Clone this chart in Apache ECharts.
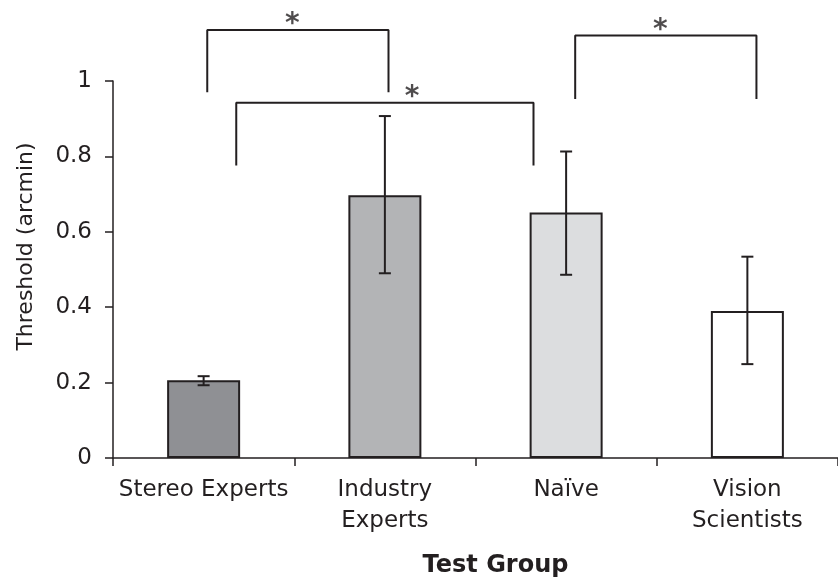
<!DOCTYPE html>
<html>
<head>
<meta charset="utf-8">
<script src="https://cdn.jsdelivr.net/npm/echarts@6/dist/echarts.min.js"></script>
<style>
  html, body { margin: 0; padding: 0; background: #fff; }
  #chart { width: 838px; height: 583px; }
</style>
</head>
<body>
<div id="chart"></div>
<script>
// Mean stereo thresholds per test group, with error-bar limits
const groups = ['Stereo Experts', 'Industry\nExperts', 'Naïve', 'Vision\nScientists'];
const thresholds = [0.206, 0.697, 0.651, 0.390];
const errLow = [0.193, 0.490, 0.486, 0.249];
const errHigh = [0.217, 0.907, 0.813, 0.534];
const barColors = ['#8f9094', '#b3b4b6', '#dcdddf', '#ffffff'];
const yTicks = [0, 0.2, 0.4, 0.6, 0.8, 1];

// Significance brackets, in axis units (x: 0..4 across the category band, y: threshold)
const bracketFrom = [0.52, 0.68, 2.55];
const bracketTo = [1.52, 2.32, 3.55];
const bracketTop = [1.135, 0.942, 1.121];
const bracketFoot = [0.97, 0.776, 0.952];
const starX = [0.99, 1.65, 3.02];
const starY = [1.148, 0.955, 1.133];

const ink = '#231f20';
const font = '"DejaVu Sans", Verdana, sans-serif';

const bracketSeries = bracketFrom.map((x0, i) => ({
  type: 'line',
  xAxisIndex: 1,
  yAxisIndex: 0,
  data: [[x0, bracketFoot[i]], [x0, bracketTop[i]], [bracketTo[i], bracketTop[i]], [bracketTo[i], bracketFoot[i]]],
  symbol: 'none',
  clip: false,
  silent: true,
  lineStyle: { color: ink, width: 2 },
  z: 5
}));

const option = {
  animation: false,
  backgroundColor: '#ffffff',
  grid: { left: 113, right: 0, top: 81, bottom: 123, containLabel: false },
  xAxis: [{
    type: 'category',
    data: groups,
    name: 'Test Group',
    nameLocation: 'middle',
    nameGap: 96,
    nameTextStyle: { fontFamily: font, fontSize: 24, fontWeight: 'bold', color: ink, padding: [0, 0, 0, 40] },
    axisLine: { lineStyle: { color: ink, width: 1.5 } },
    axisTick: { show: true, length: 8, alignWithLabel: false, lineStyle: { color: ink, width: 1.5 } },
    axisLabel: { fontFamily: font, fontSize: 23, color: ink, margin: 17, lineHeight: 31, interval: 0 },
    splitLine: { show: false }
  }, {
    type: 'value',
    min: 0,
    max: 4,
    show: false
  }],
  yAxis: {
    type: 'value',
    min: 0,
    max: 1,
    interval: 0.2,
    name: 'Threshold (arcmin)',
    nameLocation: 'middle',
    nameGap: 76,
    nameTextStyle: { fontFamily: font, fontSize: 22, color: ink, padding: [0, 0, 0, 46] },
    axisLine: { show: true, lineStyle: { color: ink, width: 1.5 } },
    axisTick: { show: true, length: 8, lineStyle: { color: ink, width: 1.5 } },
    axisLabel: {
      fontFamily: font, fontSize: 23, color: ink, margin: 21,
      formatter: v => (yTicks.indexOf(Math.round(v * 10) / 10) >= 0 ? String(Math.round(v * 10) / 10) : '')
    },
    splitLine: { show: false }
  },
  series: [{
    type: 'bar',
    data: thresholds.map((v, i) => ({ value: v, itemStyle: { color: barColors[i] } })),
    barWidth: 73,
    itemStyle: { borderColor: ink, borderWidth: 2 },
    z: 2
  }, {
    type: 'custom',
    data: thresholds.map((v, i) => [i, errLow[i], errHigh[i]]),
    renderItem: (params, api) => {
      const lo = api.coord([api.value(0), api.value(1)]);
      const hi = api.coord([api.value(0), api.value(2)]);
      const cap = 6;
      const style = { stroke: ink, lineWidth: 2 };
      return {
        type: 'group',
        children: [
          { type: 'line', shape: { x1: lo[0], y1: lo[1], x2: hi[0], y2: hi[1] }, style },
          { type: 'line', shape: { x1: lo[0] - cap, y1: lo[1], x2: lo[0] + cap, y2: lo[1] }, style },
          { type: 'line', shape: { x1: hi[0] - cap, y1: hi[1], x2: hi[0] + cap, y2: hi[1] }, style }
        ]
      };
    },
    z: 4
  }, ...bracketSeries, {
    type: 'scatter',
    xAxisIndex: 1,
    data: starX.map((x, i) => [x, starY[i]]),
    symbolSize: 0,
    clip: false,
    silent: true,
    label: {
      show: true, position: 'inside', formatter: '*',
      fontFamily: font, fontSize: 28, fontWeight: 'bold', color: ink
    },
    z: 6
  }]
};

echarts.init(document.getElementById('chart'), null, { renderer: 'canvas' }).setOption(option);
</script>
</body>
</html>
